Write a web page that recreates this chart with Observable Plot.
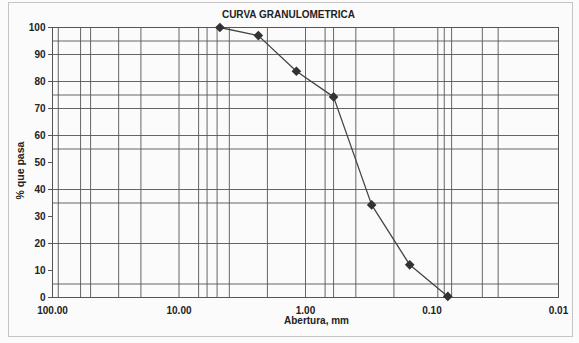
<!DOCTYPE html>
<html>
<head>
<meta charset="utf-8">
<script src="https://cdn.jsdelivr.net/npm/d3@7"></script>
<script src="https://cdn.jsdelivr.net/npm/@observablehq/plot@0.6"></script>
<style>
  html, body { margin: 0; padding: 0; background: #fbfbfb; }
  #wrap { position: relative; width: 579px; height: 343px; }
  #border { position: absolute; left: 8px; top: 2px; width: 565px; height: 335px; border: 1px solid #c4c4c4; box-sizing: border-box; pointer-events: none; }
  svg { font-family: "Liberation Sans", Arial, sans-serif; }
</style>
</head>
<body>
<div id="wrap"><div id="border"></div></div>
<script>
// Sieve openings (mm) and percent passing
const sizes = [4.75, 2.36, 1.18, 0.60, 0.30, 0.15, 0.075];
const passing = [100, 97, 83.8, 74.3, 34.3, 12.1, 0.4];

// Gridline positions and tick labels
const xGrid = [90, 60, 50, 30, 20, 10, 7, 6, 5, 4, 2, 1, 0.7, 0.6, 0.4, 0.2, 0.09, 0.08, 0.07, 0.04, 0.03];
const yGrid = [100, 95, 90, 80, 75, 70, 60, 55, 40, 35, 20, 5, 0];
const xTicks = [100, 10, 1, 0.1, 0.01];
const yTicks = [0, 10, 20, 30, 40, 50, 60, 70, 80, 90, 100];

const titleText = "CURVA GRANULOMETRICA";
const xLabel = "Abertura, mm";
const yLabel = "% que pasa";

const data = sizes.map((s, i) => ({size: s, pct: passing[i]}));

const chart = Plot.plot({
  width: 579,
  height: 343,
  marginLeft: 52,
  marginRight: 21,
  marginTop: 27,
  marginBottom: 46,
  style: {background: "transparent", fontFamily: "'Liberation Sans', Arial, sans-serif", color: "#222"},
  x: {type: "log", domain: [100, 0.01], ticks: xTicks, tickFormat: d => d.toFixed(2), label: null},
  y: {domain: [0, 100], ticks: yTicks, label: null},
  marks: [
    Plot.ruleX(xGrid, {stroke: "#555", strokeWidth: 0.9}),
    Plot.ruleY(yGrid, {stroke: "#555", strokeWidth: 0.9}),
    Plot.frame({stroke: "#555", strokeWidth: 1}),
    Plot.axisX({ticks: xTicks, tickFormat: d => d.toFixed(2), tickSize: 0, tickPadding: 9, fontSize: 10, fontWeight: "bold", label: null}),
    Plot.axisY({ticks: yTicks, tickSize: 4, tickPadding: 3, fontSize: 10, fontWeight: "bold", label: null, stroke: "#555"}),
    Plot.line(data, {x: "size", y: "pct", stroke: "#444", strokeWidth: 1.3}),
    Plot.dot(data, {x: "size", y: "pct", symbol: "diamond2", r: 3.4, fill: "#333", stroke: "#333"}),
    Plot.text([titleText], {frameAnchor: "top", lineAnchor: "middle", dx: -17, dy: -13, fontSize: 10, fontWeight: "bold", fill: "#222"}),
    Plot.text([xLabel], {frameAnchor: "bottom", lineAnchor: "middle", dx: 11, dy: 23, fontSize: 10, fontWeight: "bold", fill: "#222"}),
    Plot.text([yLabel], {frameAnchor: "left", textAnchor: "middle", lineAnchor: "middle", rotate: -90, dx: -32, dy: 8, fontSize: 10.5, fontWeight: "bold", fill: "#222"})
  ]
});
document.getElementById("wrap").prepend(chart);
</script>
</body>
</html>
